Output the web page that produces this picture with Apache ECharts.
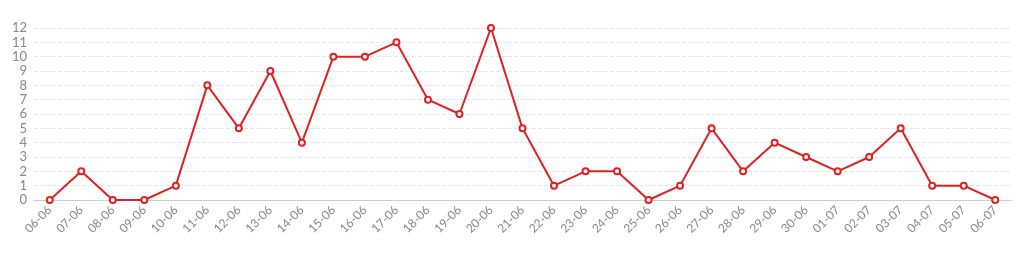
<!DOCTYPE html>
<html><head><meta charset="utf-8">
<script src="https://cdn.jsdelivr.net/npm/echarts@6/dist/echarts.min.js"></script>
<style>html,body{margin:0;padding:0;background:#fff}#c{width:1024px;height:261px}</style>
</head><body><div id="c"></div>
<script>
const categories = ['06-06','07-06','08-06','09-06','10-06','11-06','12-06','13-06','14-06','15-06','16-06','17-06','18-06','19-06','20-06','21-06','22-06','23-06','24-06','25-06','26-06','27-06','28-06','29-06','30-06','01-07','02-07','03-07','04-07','05-07','06-07'];
const values = [0,2,0,0,1,8,5,9,4,10,10,11,7,6,12,5,1,2,2,0,1,5,2,4,3,2,3,5,1,1,0];
const chart = echarts.init(document.getElementById('c'));
chart.setOption({
  animation:false,
  grid:{left:34,right:13,top:28,bottom:61},
  xAxis:{type:'category',data:categories,boundaryGap:true,
    axisLine:{lineStyle:{color:'#cccccc'}},axisTick:{show:false},
    axisLabel:{rotate:45,color:'#888888',fontFamily:'Lato',fontSize:12,margin:8,interval:0}},
  yAxis:{type:'value',min:0,max:12,interval:1,
    axisLine:{show:false},axisTick:{show:false},
    axisLabel:{color:'#888888',fontFamily:'Lato',fontSize:13,margin:7},
    splitLine:{lineStyle:{color:'#e6e6e6',type:'dashed'}}},
  series:[{type:'line',data:values,symbol:'emptyCircle',symbolSize:6,
    lineStyle:{color:'#dd2222',width:2},itemStyle:{color:'#dd2222',borderWidth:2}}]
});
</script></body></html>
